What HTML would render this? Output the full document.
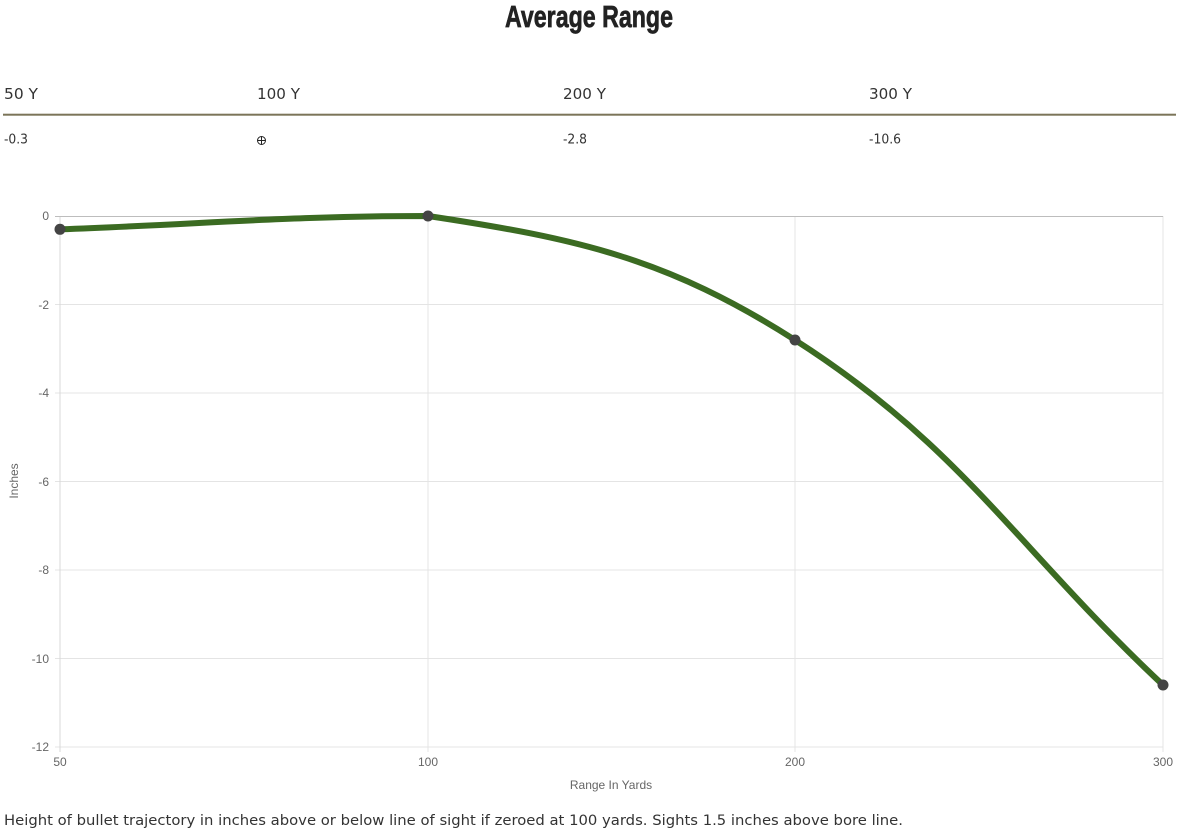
<!DOCTYPE html>
<html>
<head>
<meta charset="utf-8">
<style>
  html, body { margin: 0; padding: 0; background: #fff; }
  body { width: 1180px; height: 830px; overflow: hidden; }
  svg { display: block; }
</style>
</head>
<body>
<svg width="1180" height="830" viewBox="0 0 1180 830" xmlns="http://www.w3.org/2000/svg">
  <!-- Title -->
  <text x="505" y="27" font-family="'Liberation Sans Narrow','Liberation Sans',sans-serif" font-weight="bold" font-size="31" fill="#222" stroke="#222" stroke-width="0.7" textLength="168" lengthAdjust="spacingAndGlyphs">Average Range</text>

  <!-- Header row -->
  <g font-family="'DejaVu Sans','Liberation Sans',sans-serif" font-size="15" fill="#333">
    <text x="4" y="99" textLength="34" lengthAdjust="spacingAndGlyphs">50 Y</text>
    <text x="257" y="99" textLength="43" lengthAdjust="spacingAndGlyphs">100 Y</text>
    <text x="563" y="99" textLength="43" lengthAdjust="spacingAndGlyphs">200 Y</text>
    <text x="869" y="99" textLength="43" lengthAdjust="spacingAndGlyphs">300 Y</text>
  </g>
  <rect x="3" y="113.7" width="1173" height="2" fill="#7b7459"/>
  <g font-family="'DejaVu Sans','Liberation Sans',sans-serif" font-size="13" fill="#333">
    <text x="4" y="143.5" textLength="24" lengthAdjust="spacingAndGlyphs">-0.3</text>
    <text x="563" y="143.5" textLength="24" lengthAdjust="spacingAndGlyphs">-2.8</text>
    <text x="869" y="143.5" textLength="32" lengthAdjust="spacingAndGlyphs">-10.6</text>
  </g>
  <!-- crosshair symbol -->
  <g stroke="#222" stroke-width="1" fill="none">
    <circle cx="261.5" cy="140.5" r="4"/>
    <line x1="257.5" y1="140.5" x2="265.5" y2="140.5"/>
    <line x1="261.5" y1="136.5" x2="261.5" y2="144.5"/>
  </g>

  <!-- Grid -->
  <g stroke="#e4e4e4" stroke-width="1">
    <line x1="55" y1="304.5" x2="1163" y2="304.5"/>
    <line x1="55" y1="393" x2="1163" y2="393"/>
    <line x1="55" y1="481.5" x2="1163" y2="481.5"/>
    <line x1="55" y1="570" x2="1163" y2="570"/>
    <line x1="55" y1="658.5" x2="1163" y2="658.5"/>
    <line x1="55" y1="747" x2="1163" y2="747"/>
    <line x1="428" y1="216" x2="428" y2="752"/>
    <line x1="795" y1="216" x2="795" y2="752"/>
    <line x1="1163" y1="216" x2="1163" y2="752"/>
    <line x1="60" y1="216" x2="60" y2="752" stroke="#d8d8d8"/>
  </g>
  <line x1="55" y1="216.5" x2="1163" y2="216.5" stroke="#bdbdbd" stroke-width="1"/>

  <!-- Y tick labels -->
  <g font-family="'Liberation Sans',Arial,sans-serif" font-size="12" fill="#666" text-anchor="end">
    <text x="49" y="220">0</text>
    <text x="49" y="309">-2</text>
    <text x="49" y="397">-4</text>
    <text x="49" y="486">-6</text>
    <text x="49" y="574">-8</text>
    <text x="49" y="663">-10</text>
    <text x="49" y="751">-12</text>
  </g>
  <!-- X tick labels -->
  <g font-family="'Liberation Sans',Arial,sans-serif" font-size="12" fill="#666" text-anchor="middle">
    <text x="60" y="766">50</text>
    <text x="428" y="766">100</text>
    <text x="795" y="766">200</text>
    <text x="1163" y="766">300</text>
  </g>
  <text x="611" y="789" font-family="'Liberation Sans',Arial,sans-serif" font-size="12" fill="#666" text-anchor="middle">Range In Yards</text>
  <text transform="translate(18,481) rotate(-90)" font-family="'Liberation Sans',Arial,sans-serif" font-size="12" fill="#666" text-anchor="middle">Inches</text>

  <!-- Series -->
  <path d="M60,229.3 C207.2,224.0 284.7,216 428,216 C578.7,238.7 667.3,258.5 795,340 C961.3,446.1 1015.8,547 1163,685" fill="none" stroke="#3b6b22" stroke-width="6" stroke-linecap="round" stroke-linejoin="round"/>
  <g fill="#444">
    <circle cx="60" cy="229.3" r="5.5"/>
    <circle cx="428" cy="216" r="5.5"/>
    <circle cx="795" cy="340" r="5.5"/>
    <circle cx="1163" cy="685" r="5.5"/>
  </g>

  <!-- Footer -->
  <text x="4" y="825" font-family="'DejaVu Sans','Liberation Sans',sans-serif" font-size="14" fill="#333" textLength="899" lengthAdjust="spacingAndGlyphs">Height of bullet trajectory in inches above or below line of sight if zeroed at 100 yards. Sights 1.5 inches above bore line.</text>
</svg>
</body>
</html>
